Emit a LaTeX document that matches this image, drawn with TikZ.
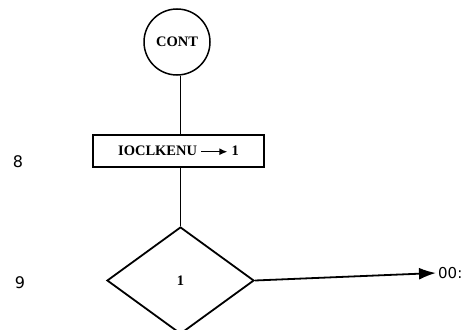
\documentclass[tikz,border=0pt]{standalone}
\usepackage{fontspec}
\setmainfont{Liberation Serif}
\newfontfamily\labfont{DejaVu Sans}
\usetikzlibrary{shapes.geometric,arrows.meta}
\begin{document}
\begin{tikzpicture}[x=1pt,y=-1pt,
  flow/.style={line width=1.8pt},
  txt/.style={font=\fontsize{14.5}{16}\selectfont\bfseries},
  side/.style={font=\labfont\fontsize{16}{18}\selectfont}]
\useasboundingbox (0,0) rectangle (465,329);
\clip (0,0) rectangle (465,329);
\node[draw,circle,line width=1.5pt,minimum size=66pt,inner sep=0pt,txt] (cont) at (177,42) {CONT};
\node[draw,rectangle,line width=1.6pt,minimum width=171pt,minimum height=32pt,inner sep=0pt,txt] (box) at (178.5,151)
  {IOCLKENU \tikz[baseline=-0.6ex]\draw[line width=1.3pt,-{Latex[length=8pt,width=7pt]}] (0,0)--(26pt,0);\ 1};
\node[draw,diamond,line width=1.8pt,minimum width=147pt,minimum height=107pt,inner sep=0pt,aspect=1.37,txt] (dec) at (180.5,280.5) {1};
\node[side,anchor=west,font=\labfont\fontsize{15}{17}\selectfont,inner sep=2pt] (out) at (436,273) {00:};
\node[side] (n8) at (18,161.5) {8};
\node[side] (n9) at (20,283) {9};
\draw[flow] (cont.south -| dec.north) -- (box.north -| dec.north);
\draw[flow] (box.south -| dec.north) -- (dec.north);
\draw[flow,-{Latex[length=17pt,width=12pt]}] (dec.east) -- (out.west);
\end{tikzpicture}
\end{document}
